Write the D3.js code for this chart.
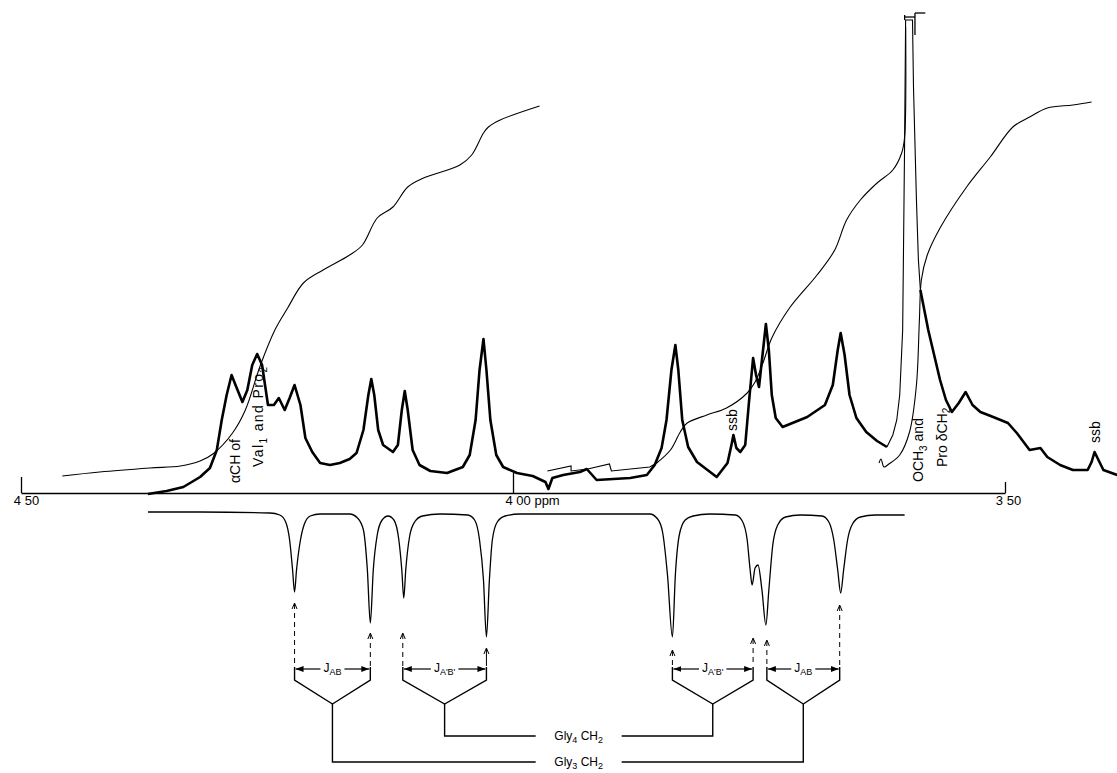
<!DOCTYPE html>
<html>
<head>
<meta charset="utf-8">
<script src="https://cdn.jsdelivr.net/npm/d3@7"></script>
<style>
  html, body { margin: 0; padding: 0; background: #fff; }
  svg { display: block; font-family: "Liberation Sans", Arial, sans-serif; }
</style>
</head>
<body>
<div id="chart"></div>
<script>

// ---- data (ppm, intensity) ----
var axisTicks = [4.5, 4.0, 3.5];
var axisLabels = ["4 50", "4 00 ppm", "3 50"];

// experimental spectrum, thick pen
var specLeft = [
  [4.371,-1],[4.352,2],[4.335,6],[4.318,16],[4.308,25],[4.301,43],[4.296,73],[4.291,98],
  [4.286,118],[4.282,108],[4.275,91],[4.270,103],[4.265,128],[4.260,139],[4.255,128],
  [4.249,88],[4.243,88],[4.238,95],[4.232,83],[4.227,95],[4.222,108],[4.216,88],[4.211,55],
  [4.204,41],[4.196,30],[4.186,28],[4.176,30],[4.166,34],[4.159,40],[4.152,63],[4.147,98],
  [4.144,114],[4.141,98],[4.137,63],[4.132,48],[4.122,41],[4.117,48],[4.113,83],[4.110,102],
  [4.107,83],[4.102,43],[4.095,28],[4.084,22],[4.067,20],[4.051,26],[4.044,38],[4.038,73],
  [4.034,123],[4.030,154],[4.027,123],[4.023,73],[4.017,38],[4.010,26],[3.996,20],[3.980,17],
  [3.967,11],[3.964,4],[3.960,15],[3.949,18],[3.932,21],[3.925,24],[3.915,13],[3.898,14],
  [3.881,15],[3.864,18],[3.856,28],[3.849,45],[3.844,73],[3.839,123],[3.835,148],[3.832,123],
  [3.828,73],[3.822,46],[3.813,31],[3.793,16],[3.782,30],[3.778,48],[3.776,58],[3.773,45],
  [3.769,41],[3.764,48],[3.760,93],[3.756,135],[3.753,118],[3.750,106],[3.747,133],[3.743,169],
  [3.740,143],[3.737,98],[3.733,75],[3.726,66],[3.701,76],[3.683,88],[3.675,108],[3.670,143],
  [3.667,160],[3.663,138],[3.658,98],[3.651,75],[3.641,61],[3.630,52],[3.620,46]
];
// OCH3 line, off scale, thin pen
var specTall = [
  [3.620,46],[3.614,58],[3.610,73],[3.607,98],[3.604,163],[3.602,353],[3.601,473],
  [3.594,473],[3.593,406],[3.590,293],[3.588,233],[3.586,203]
];
var specRight = [
  [3.586,203],[3.582,183],[3.578,163],[3.572,138],[3.566,113],[3.560,93],[3.554,81],[3.547,90],
  [3.540,101],[3.533,88],[3.525,81],[3.512,76],[3.497,70],[3.488,60],[3.475,43],[3.464,45],
  [3.457,36],[3.444,28],[3.431,23],[3.416,23],[3.412,31],[3.409,41],[3.404,31],[3.400,23],[3.386,18]
];

// integral traces
var intLeft = [
  [4.458,17],[4.420,21],[4.369,25],[4.338,27],[4.318,32],[4.305,39],[4.285,60],[4.272,83],
  [4.257,127],[4.242,163],[4.229,185],[4.213,210],[4.193,223],[4.166,238],[4.153,248],
  [4.138,275],[4.122,286],[4.107,306],[4.091,315],[4.054,328],[4.042,338],[4.030,360],
  [4.025,366],[4.013,373],[3.973,387]
];
var intSaw = [
  [3.965,22],[3.941,27],[3.941,22],[3.924,24],[3.902,29],[3.900,22],[3.861,26],[3.854,30]
];
var intMid = [
  [3.854,30],[3.840,43],[3.830,61],[3.823,70],[3.803,78],[3.783,85],[3.762,100],[3.754,111],
  [3.746,130],[3.737,155],[3.719,185],[3.691,218],[3.673,243],[3.661,273],[3.647,293],
  [3.630,310],[3.614,323],[3.605,340],[3.602,356],[3.601,466]
];
var intRight = [
  [3.628,30],[3.626,34],[3.623,26],[3.618,29],[3.607,38],[3.597,61],[3.590,108],[3.587,173],
  [3.585,213],[3.579,238],[3.566,265],[3.539,306],[3.515,336],[3.492,366],[3.475,376],
  [3.457,385],[3.431,388],[3.412,391]
];
// pen-limit marker at top of OCH3 line
var clipMark = [
  [[3.602,478],[3.602,473]],
  [[3.602,476],[3.5915,476]],
  [[3.5915,480],[3.5915,458]],
  [[3.5915,480],[3.581,480]]
];

// computed spectrum (depth below its baseline)
var simSpec = [
  [4.371,0],[4.318,0],[4.247,1],[4.237,3],[4.231,10],[4.227,28],[4.224,58],[4.222,80],[4.220,58],
  [4.216,28],[4.212,12],[4.206,4],[4.196,2],[4.166,2],[4.158,6],[4.152,18],[4.148,58],[4.145,111],
  [4.142,58],[4.138,23],[4.133,8],[4.127,4],[4.121,8],[4.116,28],[4.113,58],[4.111,86],[4.109,58],
  [4.105,24],[4.100,10],[4.092,4],[4.074,2],[4.046,3],[4.039,8],[4.034,28],[4.030,68],[4.027,125],
  [4.024,68],[4.021,28],[4.016,10],[4.008,4],[3.993,2],[3.861,2],[3.853,7],[3.848,20],[3.843,63],
  [3.838,125],[3.835,63],[3.831,23],[3.825,8],[3.817,4],[3.800,2],[3.774,3],[3.767,9],[3.762,28],
  [3.759,58],[3.757,73],[3.754,56],[3.751,53],[3.747,78],[3.743,113],[3.740,78],[3.736,33],
  [3.731,13],[3.723,5],[3.708,3],[3.686,4],[3.679,10],[3.674,28],[3.670,58],[3.667,81],[3.664,58],
  [3.660,28],[3.655,12],[3.647,5],[3.632,3],[3.602,3]
];

// AB quartets: line positions and arrow-tip depth (sim units)
var couplings = [
  {j: "AB",   left: 4.222, right: 4.145, leftTip: 91,  rightTip: 121, gly: 3},
  {j: "A'B'", left: 4.112, right: 4.027, leftTip: 121, rightTip: 136, gly: 4},
  {j: "A'B'", left: 3.838, right: 3.756, leftTip: 138, rightTip: 126, gly: 4},
  {j: "AB",   left: 3.742, right: 3.668, leftTip: 128, rightTip: 93,  gly: 3}
];
var glyNames = {3: "Gly_3 CH_2", 4: "Gly_4 CH_2"};

var peakLabels = [
  {text: "\u03b1CH of",        ppm: 4.277,  base: 10},
  {text: "Val_1 and Pro_2",    ppm: 4.254,  base: 26},
  {text: "ssb",                ppm: 3.772,  base: 62},
  {text: "OCH_3 and",          ppm: 3.583,  base: 11},
  {text: "Pro \u03b4CH_2",     ppm: 3.559,  base: 26},
  {text: "ssb",                ppm: 3.4035, base: 50}
];

// ---- layout ----
var width = 1117, height = 773;
var axisY = 493, jY = 669, bracketY = 680, vY = 704;
var glyY = {3: 762, 4: 736};

var x = d3.scaleLinear().domain([4.5, 3.5]).range([21, 1005]);
var y = d3.scaleLinear().domain([0, 480]).range([axisY, axisY - 480]);
var ySim = d3.scaleLinear().domain([0, 125]).range([512, 637]);

var svg = d3.select("#chart").append("svg")
    .attr("width", width)
    .attr("height", height);

svg.append("defs").append("marker")
    .attr("id", "ah")
    .attr("markerUnits", "userSpaceOnUse")
    .attr("viewBox", "0 0 8 6")
    .attr("refX", 8).attr("refY", 3)
    .attr("markerWidth", 8).attr("markerHeight", 6)
    .attr("orient", "auto")
  .append("path")
    .attr("d", "M0,0L8,3L0,6Z")
    .attr("fill", "#000");

var line = d3.line().x(d => x(d[0])).y(d => y(d[1]));
var smooth = d3.line().x(d => x(d[0])).y(d => y(d[1])).curve(d3.curveCatmullRom.alpha(0.5));
var simLine = d3.line().x(d => x(d[0])).y(d => ySim(d[1])).curve(d3.curveMonotoneX);

// axis
var xAxis = d3.axisBottom(x)
    .tickValues(axisTicks)
    .tickSize(-15)
    .tickSizeOuter(0)
    .tickPadding(3)
    .tickFormat((d, i) => axisLabels[i]);

var gx = svg.append("g")
    .attr("transform", "translate(0," + axisY + ")")
    .call(xAxis)
    .attr("font-family", null)
    .attr("font-size", 13);
gx.select(".domain").attr("stroke-width", 1.6);
var tickLen = [-16, -20, -11];
gx.selectAll(".tick line").attr("stroke-width", 1.3).attr("y2", (d, i) => tickLen[i]);
gx.selectAll(".tick text")
    .attr("fill", "#000")
    .attr("text-anchor", (d, i) => i == 1 ? "start" : "middle")
    .attr("dx", (d, i) => [5, -8, 3][i]);

// integrals (thin)
svg.append("path").attr("d", smooth(intLeft)).attr("fill", "none").attr("stroke", "#000").attr("stroke-width", 1.1);
svg.append("path").attr("d", line(intSaw)).attr("fill", "none").attr("stroke", "#000").attr("stroke-width", 1.1);
svg.append("path").attr("d", smooth(intMid)).attr("fill", "none").attr("stroke", "#000").attr("stroke-width", 1.1);
svg.append("path").attr("d", smooth(intRight)).attr("fill", "none").attr("stroke", "#000").attr("stroke-width", 1.1);

// spectrum
[specLeft, specRight].forEach(function(s) {
  svg.append("path").attr("d", line(s))
     .attr("fill", "none").attr("stroke", "#000")
     .attr("stroke-width", 2.6).attr("stroke-linejoin", "round");
});
svg.append("path").attr("d", line(specTall))
   .attr("fill", "none").attr("stroke", "#000").attr("stroke-width", 1.1);
clipMark.forEach(function(s) {
  svg.append("path").attr("d", line(s)).attr("fill", "none").attr("stroke", "#000").attr("stroke-width", 1.3);
});

// text with "_x" single-char subscripts
function richText(sel, str, size, subSize) {
  var parts = str.split(/_(.)/);
  parts.forEach(function(p, i) {
    if (!p) return;
    var sub = i % 2 == 1;
    sel.append("tspan")
       .attr("font-size", sub ? subSize : size)
       .attr("dy", sub ? size * 0.25 : (i > 0 ? -size * 0.25 : 0))
       .text(p);
  });
}

svg.selectAll(".plabel").data(peakLabels).join("text")
    .attr("class", "plabel")
    .attr("transform", d => "translate(" + x(d.ppm) + "," + y(d.base) + ") rotate(-90)")
    .attr("fill", "#000")
    .attr("letter-spacing", d => d.text.indexOf("Val") == 0 ? 1.4 : null)
    .each(function(d) { richText(d3.select(this), d.text, 14, 10); });

// simulated spectrum
svg.append("path").attr("d", simLine(simSpec))
   .attr("fill", "none").attr("stroke", "#000").attr("stroke-width", 1.3);

// assignment brackets
var g = svg.append("g").attr("fill", "none").attr("stroke", "#000").attr("stroke-width", 1.2);
var vx = {3: [], 4: []};
couplings.forEach(function(c) {
  var xl = x(c.left), xr = x(c.right), xm = (xl + xr) / 2;
  vx[c.gly].push(xm);
  [[c.left, c.leftTip], [c.right, c.rightTip]].forEach(function(p) {
    var px = x(p[0]), ty = ySim(p[1]);
    g.append("path").attr("d", "M" + (px - 2.5) + "," + (ty + 6) + "L" + px + "," + ty + "L" + (px + 2.5) + "," + (ty + 6))
     .attr("stroke-width", 1);
    g.append("line")
     .attr("x1", px).attr("x2", px).attr("y1", ty + 1).attr("y2", jY - 3)
     .attr("stroke-width", 1)
     .attr("stroke-dasharray", p[0] == 4.027 ? null : "5,4");
  });
  var t = svg.append("text")
      .attr("x", xm).attr("y", jY + 3)
      .attr("text-anchor", "middle")
      .attr("fill", "#000");
  richText(t, "J", 12, 9);
  t.append("tspan").attr("font-size", 9).attr("dy", 3).text(c.j);
  var w = t.node().getComputedTextLength();
  g.append("line").attr("x1", xm - w / 2 - 3).attr("x2", xl + 1).attr("y1", jY).attr("y2", jY).attr("marker-end", "url(#ah)");
  g.append("line").attr("x1", xm + w / 2 + 3).attr("x2", xr - 1).attr("y1", jY).attr("y2", jY).attr("marker-end", "url(#ah)");
  g.append("path")
   .attr("d", "M" + xl + "," + (jY - 2) + "V" + bracketY + "L" + xm + "," + vY + "L" + xr + "," + bracketY + "V" + (jY - 2))
   .attr("stroke-width", 1.4);
});

// glycine connector lines
var labelX = (vx[4][0] + vx[4][1]) / 2;
[4, 3].forEach(function(n) {
  var ly = glyY[n];
  g.append("path")
   .attr("d", "M" + vx[n][0] + "," + vY + "V" + ly + "H" + (labelX - 43) +
              "M" + (labelX + 43) + "," + ly + "H" + vx[n][1] + "V" + vY)
   .attr("stroke-width", 1.4);
  var t = svg.append("text")
      .attr("x", labelX).attr("y", ly + 4)
      .attr("text-anchor", "middle")
      .attr("fill", "#000");
  richText(t, glyNames[n], 12, 9);
});

</script>
</body>
</html>
